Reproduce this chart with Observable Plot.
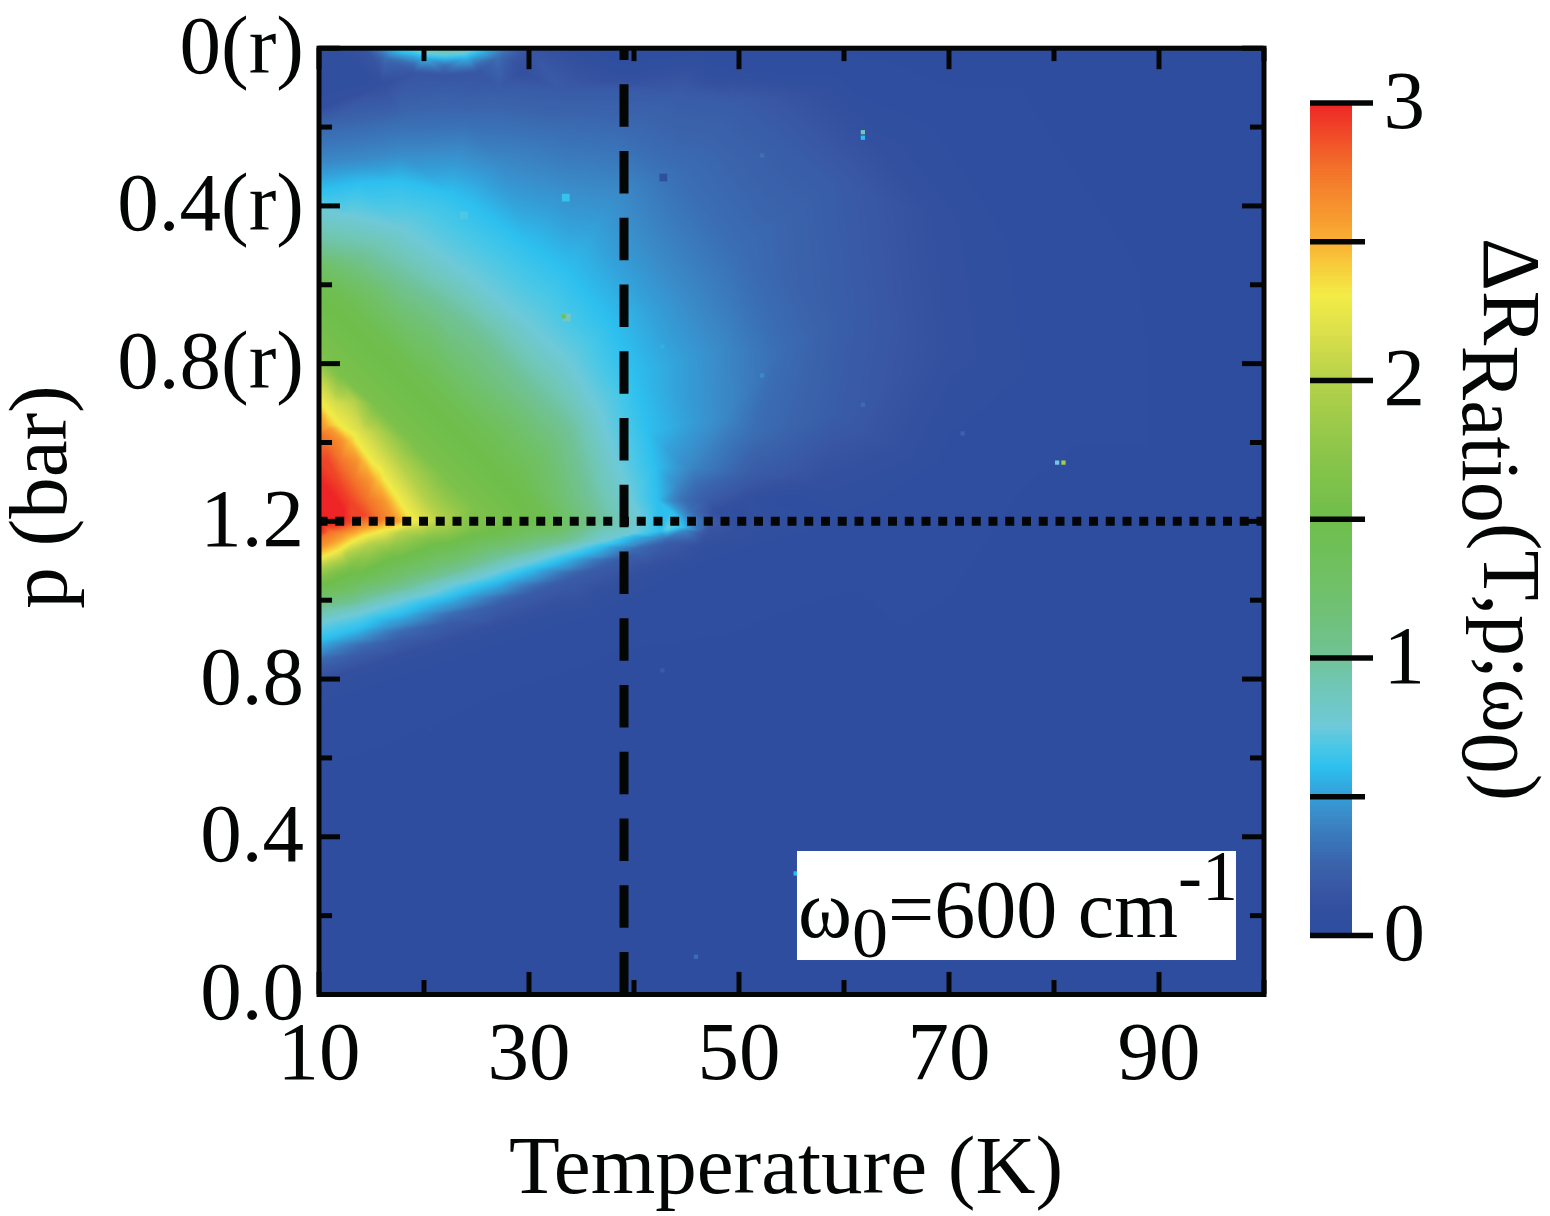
<!DOCTYPE html>
<html>
<head>
<meta charset="utf-8">
<script src="https://cdn.jsdelivr.net/npm/d3@7"></script>
<script src="https://cdn.jsdelivr.net/npm/@observablehq/plot@0.6"></script>
<style>
html,body{margin:0;padding:0;background:#fff}
#chart{position:relative;width:1550px;height:1216px;overflow:hidden}
#chart svg{position:absolute;left:0;top:0}
</style>
</head>
<body>
<div id="chart"></div>
<script>
// ---- axis ticks and labels ----
const xMajor = [10, 30, 50, 70, 90];
const xMinor = [20, 40, 60, 80, 100];
const yMajor = [0, 0.4, 0.8, 1.2, 1.6, 2.0, 2.4];
const yMinor = [0.2, 0.6, 1.0, 1.4, 1.8, 2.2];
const yLabels = ["0.0", "0.4", "0.8", "1.2", "0.8(r)", "0.4(r)", "0(r)"];
const barMajor = [0, 1, 2, 3];
const barMinor = [0.5, 1.5, 2.5];
const tCritical = 39.05;
const pCritical = 1.2;

// ---- colour map ----
const colorValues = [0, 0.1, 0.15, 0.25, 0.35, 0.42, 0.5, 0.6, 0.68, 0.75, 0.9, 1, 1.2, 1.5, 1.75, 2, 2.15, 2.3, 2.4, 2.5, 2.75, 3];
const colorStops = ["#2f4d9f", "#32509f", "#3855a3", "#3a63ac", "#3a78bb", "#3a8ac8", "#349fd8", "#2dc0ef", "#4cc8e6", "#6fc9d8", "#70c7b4", "#70c295", "#70c16f", "#6fbe4b", "#8ec64a", "#b6d24a", "#d8de4b", "#f3ec47", "#f7ce3b", "#f9ae33", "#f3732a", "#ee2426"];

// ---- iso-value curves of the map as [T (K), axis position] ----
const spot090 = [[20,2.4],[22,2.392],[24,2.4]];
const spot075 = [[18.7,2.4],[20.1,2.387],[22,2.384],[23.5,2.387],[24.7,2.4]];
const spot060 = [[17.1,2.4],[18,2.389],[20,2.378],[22,2.375],[24,2.378],[25.1,2.389],[25.7,2.4]];
const spot030 = [[15.2,2.4],[16.3,2.375],[19,2.36],[22,2.355],[25,2.36],[27,2.375],[28.3,2.4]];
const spot015 = [[14.3,2.4],[15.5,2.365],[19,2.336],[22,2.33],[25,2.336],[28.5,2.365],[30,2.4]];
const edge005 = [[10,2.4],[10,2.33],[13,2.34]];
const edge003 = [[36.8,2.4],[46.3,2.4],[38.7,2.37],[48,2.36],[60,2.34],[70.4,2.224],[78.4,1.887],[80,1.545],[70.4,1.337],[54.6,1.253],[50,1.225]];
const up010 = [[10,2.247],[13,2.28],[16,2.31],[29.2,2.338],[38.7,2.323],[48.2,2.313],[57.8,2.293],[63.5,2.15],[68.9,1.97],[70.4,1.633],[65.7,1.38],[57.8,1.296],[50.4,1.253],[47.6,1.227]];
const up020 = [[10,2.222],[13,2.247],[17.8,2.288],[22,2.305],[27.3,2.305],[33,2.293],[38.7,2.293],[44.4,2.285],[49.9,2.267],[55,2.16],[59.4,2.057],[60.9,1.717],[59.4,1.463],[51.4,1.321],[47,1.253],[46.7,1.225]];
const up030 = [[10,2.184],[14,2.196],[17.8,2.212],[24.1,2.217],[33.7,2.191],[38.7,2.178],[44.4,2.09],[49.9,1.887],[53.9,1.633],[51.4,1.423],[46,1.296],[44.8,1.253],[45.5,1.227]];
const up042 = [[10,2.108],[14,2.12],[17.8,2.135],[27.3,2.108],[33.7,2.057],[38.7,2.034],[41.9,1.887],[45.4,1.76],[48.2,1.633],[48.4,1.463],[45.1,1.337],[44.1,1.296],[43.5,1.253],[44.6,1.227],[45.3,1.202]];
const up060 = [[10,2.039],[14,2.059],[17.8,2.064],[22.5,2.034],[24.1,2.014],[29.9,1.905],[33.7,1.836],[37.8,1.702],[40,1.575],[41.3,1.43],[42,1.337],[42.2,1.253],[43.5,1.227],[44.4,1.202]];
const up075 = [[10,1.99],[13,1.975],[17.8,1.945],[24.1,1.829],[29.9,1.702],[33.7,1.608],[36.8,1.474],[38.4,1.347],[39.7,1.253],[40.6,1.207]];
const up100 = [[10,1.895],[14,1.874],[17.8,1.811],[21.6,1.747],[25.4,1.671],[30.1,1.532],[33.7,1.43],[35.6,1.26],[36.6,1.202]];
const up125 = [[10,1.849],[13,1.811],[17.8,1.702],[23.5,1.557],[28.9,1.43],[32.3,1.26],[33.5,1.202]];
const up145 = [[10,1.803],[12.5,1.76],[15.9,1.671],[20.6,1.545],[24.9,1.43],[29.2,1.304],[31.6,1.202]];
const up160 = [[10,1.633],[12,1.57],[15.4,1.494],[19.2,1.392],[22,1.316],[24.9,1.24],[26.3,1.202]];
const up200 = [[10,1.57],[10.6,1.557],[13.3,1.506],[15.4,1.43],[17.5,1.354],[20.1,1.253],[21.6,1.202]];
const up215 = [[10,1.54],[11.5,1.5],[14,1.43],[16.2,1.354],[18.9,1.253],[20.2,1.202]];
const up230 = [[10,1.506],[10.8,1.481],[12,1.443],[13.5,1.405],[14.9,1.354],[16.3,1.304],[17.6,1.253],[18.4,1.22],[18.9,1.202]];
const up245 = [[10,1.483],[11,1.445],[12.9,1.405],[14.3,1.354],[15.6,1.304],[16.9,1.253],[18.1,1.202]];
const up260 = [[10,1.461],[11,1.435],[12.3,1.405],[13.7,1.354],[14.9,1.304],[16.2,1.253],[17,1.215],[17.3,1.202]];
const up275 = [[10,1.42],[10.8,1.405],[12,1.354],[13.3,1.304],[14.6,1.253],[15.6,1.21]];
const up290 = [[10,1.354],[10.8,1.354],[11.8,1.304],[13,1.253],[14.2,1.215]];
const core300 = [[10,1.278],[10,1.2],[11,1.25],[12,1.215],[10,1.18]];
const low290 = [[10,1.165],[11.5,1.185],[13,1.198]];
const low275 = [[10,1.159],[11.1,1.174],[13.5,1.192],[15.6,1.2]];
const low260 = [[10,1.131],[10.8,1.144],[12.5,1.169],[15.4,1.195],[17.3,1.2]];
const low230 = [[10,1.106],[11.8,1.126],[13.3,1.151],[16.1,1.177],[18.9,1.2]];
const low200 = [[10,1.085],[12.5,1.118],[14.9,1.144],[17.8,1.172],[21.6,1.197]];
const low160 = [[10,1.05],[13,1.083],[16.8,1.118],[20.6,1.151],[24.4,1.177],[26.8,1.197]];
const low145 = [[10,1.032],[14,1.063],[17.8,1.101],[22.5,1.139],[27.3,1.169],[31.6,1.195]];
const low125 = [[10,1.007],[13,1.025],[17.8,1.068],[22.5,1.106],[27.3,1.144],[30.5,1.167],[33.5,1.189]];
const low100 = [[10,0.981],[14,1.005],[17.8,1.032],[22.5,1.07],[27.3,1.113],[30.5,1.132],[33.7,1.151],[36.6,1.197]];
const low075 = [[10,0.941],[14,0.968],[17.8,0.999],[22.5,1.037],[27.3,1.075],[30.5,1.1],[33.7,1.126],[37,1.149],[40,1.169],[43.2,1.182]];
const low060 = [[10,0.898],[14,0.93],[17.8,0.966],[22.5,1.008],[27.3,1.05],[30.5,1.08],[33.7,1.108],[37,1.137],[40,1.164],[42.5,1.176],[44.7,1.184]];
const low042 = [[10,0.867],[14,0.9],[17.8,0.936],[22.5,0.978],[27.3,1.02],[30.5,1.05],[33.7,1.08],[37,1.11],[40,1.139],[42.5,1.16],[44.7,1.177]];
const low030 = [[10,0.852],[14,0.887],[17.8,0.923],[22.5,0.965],[27.3,1.007],[30.5,1.038],[33.7,1.07],[37,1.102],[40,1.131],[43,1.155],[46.3,1.177]];
const low020 = [[10,0.829],[14,0.862],[17.8,0.898],[22.5,0.942],[27.3,0.987],[30.5,1.018],[33.7,1.05],[37,1.083],[40,1.113],[43,1.142],[46.3,1.169]];
const low010 = [[10,0.796],[14,0.826],[17.8,0.86],[22.5,0.897],[27.3,0.936],[32,0.98],[36.8,1.025],[41.5,1.08],[46.3,1.139],[50,1.167],[53.9,1.189]];
const low003 = [[10,0.72],[16,0.77],[22,0.822],[29,0.885],[36.8,0.949],[41.5,1.01],[46.3,1.075],[53,1.135],[60.6,1.189]];
const ridge030 = [[46.3,1.2]];
const ridge018 = [[47.5,1.2]];
const ridge010 = [[52,1.2]];
const ridge003 = [[62,1.2]];
const background = [[10,0.4],[10,0],[40,0.4],[40,0],[70,0.6],[70,0],[100,0],[100,0.6],[100,1.2],[100,1.8],[100,2.4],[85,2.4],[70,2.4],[85,1.2],[60,0.8],[35,0.7]];

const curves = [
  [0.9, spot090], [0.75, spot075], [0.6, spot060], [0.3, spot030], [0.15, spot015], [0.05, edge005], [0.03, edge003],
  [0.1, up010], [0.2, up020], [0.3, up030], [0.42, up042], [0.6, up060], [0.75, up075], [1.0, up100],
  [1.25, up125], [1.45, up145], [1.6, up160], [2.0, up200], [2.15, up215], [2.3, up230], [2.45, up245], [2.6, up260], [2.75, up275], [2.9, up290], [3.05, core300],
  [2.9, low290], [2.75, low275], [2.6, low260], [2.3, low230], [2.0, low200], [1.6, low160], [1.45, low145], [1.25, low125], [1.0, low100],
  [0.75, low075], [0.6, low060], [0.42, low042], [0.3, low030], [0.2, low020], [0.1, low010], [0.03, low003],
  [0.3, ridge030], [0.18, ridge018], [0.1, ridge010], [0.03, ridge003], [0, background]
];
const samples = curves.flatMap(([v, pts]) => pts.map(([T, p]) => ({T, p, v})));

// ---- isolated outlier pixels of the map: small ones and large ones ----
const speckT = [61.8, 61.8, 52.2, 42.7, 52.2, 61.8, 71.3, 80.3, 80.9, 71.3, 20.6, 42.7, 38.1, 55.4, 45.9, 33.3];
const speckP = [2.187, 2.173, 2.128, 1.643, 1.57, 1.496, 1.423, 1.349, 1.349, 2.234, 0.675, 0.822, 0.941, 0.307, 0.096, 1.72];
const speckV = [0.9, 0.6, 0.32, 0.55, 0.42, 0.3, 0.25, 0.75, 1.9, 0.08, 0.07, 0.2, 0.02, 0.6, 0.3, 1.4];
const bigSpeckT = [42.8, 33.5, 33.6, 23.8];
const bigSpeckP = [2.072, 2.021, 1.717, 1.976];
const bigSpeckV = [0.05, 0.62, 0.85, 0.68];
const specks = speckT.map((T, i) => ({T, p: speckP[i], v: speckV[i]}));
const bigSpecks = bigSpeckT.map((T, i) => ({T, p: bigSpeckP[i], v: bigSpeckV[i]}));

const barLevels = d3.range(0, 3, 0.01);

const ink = "#040606";
const fontFamily = "'Liberation Serif','Times New Roman',serif";
const colorScale = {type: "linear", domain: colorValues, range: colorStops, clamp: true};
const styleBase = {background: "transparent", fontFamily, color: ink, overflow: "visible"};

const main = Plot.plot({
  width: 1550, height: 1216,
  marginLeft: 318.5, marginRight: 286.5, marginTop: 47.7, marginBottom: 222,
  style: styleBase,
  x: {domain: [10, 100]},
  y: {domain: [0, 2.4]},
  color: colorScale,
  marks: [
    Plot.raster(samples, {x: "T", y: "p", fill: "v", interpolate: "barycentric", pixelSize: 2}),
    Plot.dot(bigSpecks, {x: "T", y: "p", fill: "v", symbol: "square", r: 4.4}),
    Plot.dot(specks, {x: "T", y: "p", fill: "v", symbol: "square", r: 2.4}),
    Plot.rect([0], {x1: 55.57, x2: 97.38, y1: 0.0862, y2: 0.3627, fill: "white"}),
    Plot.ruleX(xMajor, {y1: 0, y2: 0.056, strokeWidth: 5, stroke: ink}),
    Plot.ruleX(xMinor, {y1: 0, y2: 0.0355, strokeWidth: 5, stroke: ink}),
    Plot.ruleX(xMajor, {y1: 2.4, y2: 2.3455, strokeWidth: 5, stroke: ink}),
    Plot.ruleX(xMinor, {y1: 2.4, y2: 2.366, strokeWidth: 5, stroke: ink}),
    Plot.ruleY(yMajor, {x1: 10, x2: 12.05, strokeWidth: 5, stroke: ink}),
    Plot.ruleY(yMinor, {x1: 10, x2: 11.29, strokeWidth: 5, stroke: ink}),
    Plot.ruleY(yMajor, {x1: 100, x2: 97.95, strokeWidth: 5, stroke: ink}),
    Plot.ruleY(yMinor, {x1: 100, x2: 98.71, strokeWidth: 5, stroke: ink}),
    Plot.ruleX([tCritical], {stroke: ink, strokeWidth: 9, strokeDasharray: "42.5,24.25", strokeDashoffset: 30.2}),
    Plot.ruleY([pCritical], {stroke: ink, strokeWidth: 9, strokeDasharray: "9,7.75"}),
    Plot.frame({stroke: ink, strokeWidth: 5}),
    Plot.axisX(xMajor, {tickSize: 0, tickPadding: 26, fontSize: 83, label: null, fill: ink}),
    Plot.axisY(yMajor, {tickSize: 0, tickPadding: 15, fontSize: 83, label: null, fill: ink, dy: -2,
      tickFormat: d => yLabels[yMajor.indexOf(d)]})
  ]
});

const bar = Plot.plot({
  width: 1550, height: 1216,
  marginLeft: 1310, marginRight: 198, marginTop: 102.5, marginBottom: 281,
  style: styleBase,
  x: {domain: [0, 1], axis: null},
  y: {domain: [0, 3]},
  color: colorScale,
  marks: [
    Plot.rect(barLevels, {x1: 0, x2: 1, y1: d => d, y2: d => d + 0.0105, fill: d => d, shapeRendering: "crispEdges"}),
    Plot.ruleY(barMajor, {x1: 0, x2: 1.5, stroke: ink, strokeWidth: 5.5}),
    Plot.ruleY(barMinor, {x1: 0, x2: 1.31, stroke: ink, strokeWidth: 5.5}),
    Plot.axisY(barMajor, {anchor: "right", tickSize: 0, tickPadding: 31, fontSize: 83, label: null, fill: ink, dy: -2, tickFormat: d => String(d)})
  ]
});

function addText(svg, transform, anchor, parts) {
  const t = d3.select(svg).append("text")
    .attr("transform", transform)
    .attr("font-family", fontFamily)
    .attr("text-anchor", anchor)
    .attr("fill", ink);
  for (const [text, size, dy] of parts) {
    t.append("tspan").attr("font-size", size).attr("dy", dy).text(text);
  }
  return t;
}

addText(main, "translate(786,1193)", "middle", [["Temperature (K)", 83, 0]]);
addText(main, "translate(66,497) rotate(-90)", "middle", [["p (bar)", 83, 0]]);
addText(main, "translate(798,937)", "start", [["ω", 82, 0], ["0", 72, 20], ["=600 cm", 82, -20], ["-1", 72, -37]]);
addText(bar, "translate(1484,238) rotate(90)", "start", [["ΔR", 82, 0], ["Ratio", 82, 21], ["(T,p;ω", 82, -21], ["0", 82, 21], [")", 82, -21]]);

const root = document.getElementById("chart");
root.append(main, bar);
</script>
</body>
</html>
